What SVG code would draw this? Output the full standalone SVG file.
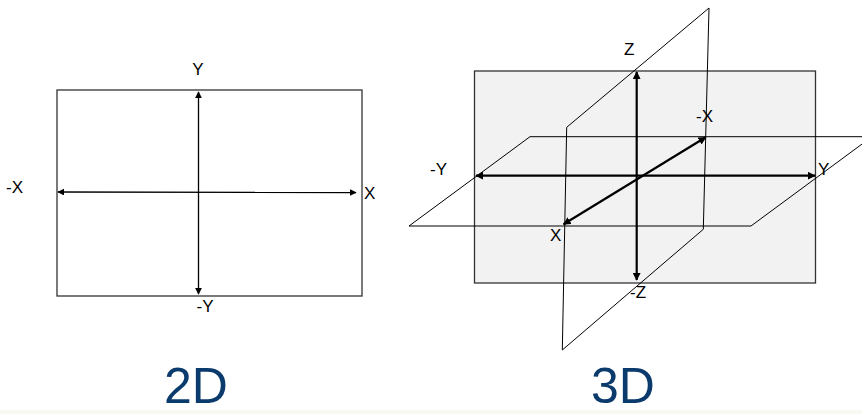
<svg xmlns="http://www.w3.org/2000/svg" width="862" height="414" viewBox="0 0 862 414">
<style>
.lbl{font-family:"Liberation Sans",Arial,sans-serif;font-size:17px;fill:#000}
.big{font-family:"Liberation Sans",Arial,sans-serif;font-size:50px;fill:#0b3a6c}
.ax2{stroke:#000;stroke-width:1.3;fill:none}
.ax3{stroke:#000;stroke-width:2.2;fill:none}
.pl{stroke:#000;stroke-width:1;fill:none}
</style>
<defs>
<marker id="ah" viewBox="0 0 10 10" refX="9" refY="5" markerWidth="7" markerHeight="7" markerUnits="userSpaceOnUse" orient="auto-start-reverse"><path d="M0,0 L10,5 L0,10 z" fill="#000"/></marker>
<marker id="ah3" viewBox="0 0 10 10" refX="9" refY="5" markerWidth="8" markerHeight="8" markerUnits="userSpaceOnUse" orient="auto-start-reverse"><path d="M0,0 L10,5 L0,10 z" fill="#000"/></marker>
</defs>
<rect x="0" y="0" width="862" height="414" fill="#fff"/>
<rect x="0" y="410" width="862" height="4" fill="#f9f9f3"/>
<g id="plane2d">
<rect x="57" y="90" width="305" height="206" fill="#fff" stroke="#333" stroke-width="1.3"/>
</g>
<g id="plane3d-xz">
<rect x="474.5" y="71" width="341" height="212" fill="#f2f2f2" stroke="#333" stroke-width="1.3"/>
</g>
<g id="plane3d-vertical">
<polygon class="pl" points="566.7,127.3 709,8 703.3,229.3 562.3,350"/>
</g>
<g id="plane3d-horizontal">
<polygon class="pl" points="530,136.7 872,136.7 751,226 409,226"/>
</g>
<g id="connectors">
<line class="ax2" x1="198.5" y1="92" x2="198.5" y2="294" marker-start="url(#ah)" marker-end="url(#ah)"/>
<line class="ax2" x1="58" y1="192" x2="356" y2="192.5" marker-start="url(#ah)" marker-end="url(#ah)"/>
<line class="ax3" x1="636.7" y1="72" x2="636.7" y2="280" marker-start="url(#ah3)" marker-end="url(#ah3)"/>
<line class="ax3" x1="476" y1="175.7" x2="815" y2="175.7" marker-start="url(#ah3)" marker-end="url(#ah3)"/>
<line class="ax3" x1="563.5" y1="224.3" x2="705.7" y2="137.3" marker-start="url(#ah3)" marker-end="url(#ah3)"/>
</g>
<g id="labels">
<text class="lbl" x="198" y="75" text-anchor="middle">Y</text>
<text class="lbl" x="205" y="312" text-anchor="middle">-Y</text>
<text class="lbl" x="6" y="193">-X</text>
<text class="lbl" x="364" y="199">X</text>
<text class="lbl" x="624" y="55">Z</text>
<text class="lbl" x="630" y="298">-Z</text>
<text class="lbl" x="430" y="175">-Y</text>
<text class="lbl" x="818" y="175">Y</text>
<text class="lbl" x="696" y="121.5">-X</text>
<text class="lbl" x="550" y="241">X</text>
</g>
<g id="titles">
<text class="big" x="164" y="403">2D</text>
<text class="big" x="591" y="403">3D</text>
</g>
</svg>
